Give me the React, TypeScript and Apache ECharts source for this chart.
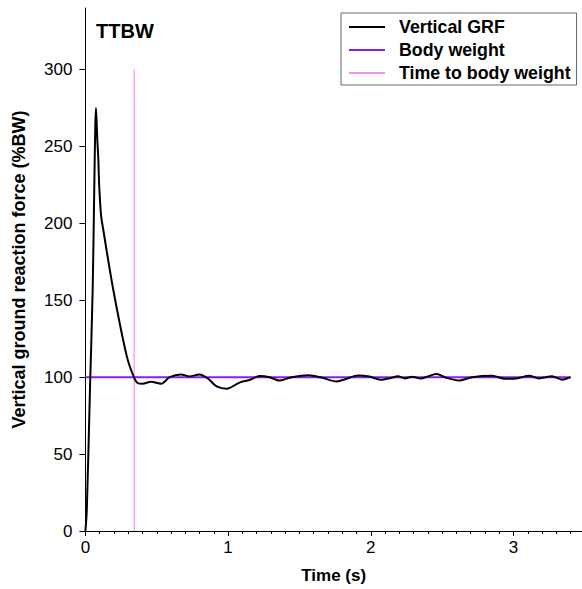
import React, { useEffect, useRef } from "react";
import * as echarts from "echarts";

const titleText = "TTBW";
const seriesNames = ["Vertical GRF", "Body weight", "Time to body weight"];

// Vertical GRF: [time (s), %BW]
const grfData: [number, number][] = [
  [0, 0], [0.01, 14], [0.032, 92], [0.051, 157], [0.062, 222], [0.069, 262], [0.074, 275],
  [0.083, 255], [0.09, 243], [0.097, 224], [0.11, 205], [0.125, 196],
  [0.195, 157], [0.289, 114], [0.342, 99.5], [0.37, 96],
  [0.4, 95.8], [0.46, 97], [0.53, 95.7], [0.59, 100], [0.67, 101.8], [0.73, 100.5],
  [0.8, 101.8], [0.86, 99], [0.92, 94], [0.99, 92.5], [1.08, 96.5], [1.15, 98.2],
  [1.22, 100.7], [1.29, 100], [1.36, 97.8], [1.43, 99.6], [1.56, 101.2], [1.66, 99.6],
  [1.76, 97.2], [1.83, 99], [1.91, 101.1], [1.99, 100.4], [2.07, 98.4], [2.14, 99.5],
  [2.19, 100.6], [2.24, 99.2], [2.29, 100.3], [2.35, 99.1], [2.4, 100.5], [2.46, 102],
  [2.53, 99.6], [2.62, 97.9], [2.71, 100], [2.85, 100.9], [2.94, 99], [3.02, 99.2],
  [3.11, 100.9], [3.18, 99.2], [3.27, 100.6], [3.34, 98.4], [3.4, 100],
];

const bodyWeightData: [number, number][] = [[0, 100], [3.4, 100]];
const ttbwData: [number, number][] = [[0.342, 0], [0.342, 300]];

const xLabelValues = [0, 1, 2, 3];
const yLabelValues = [0, 50, 100, 150, 200, 250, 300];

const FONT = "'Liberation Sans', Arial, Helvetica, sans-serif";
const BLACK = "#000";
const PURPLE = "#8a1cf5";
const PINK = "#f78ef7";

export default function App() {
  const ref = useRef<HTMLDivElement>(null);
  useEffect(() => {
    if (!ref.current) return;
    const chart = echarts.init(ref.current, null, { renderer: "svg" });
    chart.setOption({
      animation: false,
      backgroundColor: "#fff",
      textStyle: { fontFamily: FONT },
      title: {
        text: titleText,
        left: 96,
        top: 21,
        padding: 0,
        textStyle: { fontFamily: FONT, fontSize: 20, fontWeight: "bold", color: BLACK },
      },
      legend: {
        orient: "vertical",
        left: 341,
        top: 13,
        padding: [5, 6, 3, 8],
        itemGap: 5,
        itemWidth: 36,
        itemHeight: 2,
        icon: "rect",
        borderColor: "#666",
        borderWidth: 1,
        borderRadius: 0,
        data: seriesNames,
        textStyle: {
          fontFamily: FONT,
          fontSize: 17.8,
          fontWeight: "bold",
          color: BLACK,
          lineHeight: 18,
          padding: [0, 0, 0, 9],
        },
      },
      grid: { left: 85.4, right: 0, top: 8, bottom: 57, containLabel: false },
      xAxis: [
        {
          type: "value",
          min: 0,
          max: 3.48,
          interval: 1,
          position: "bottom",
          name: "Time (s)",
          nameLocation: "middle",
          nameGap: 36,
          nameTextStyle: { fontFamily: FONT, fontSize: 17, fontWeight: "bold", color: BLACK },
          axisLine: { show: true, lineStyle: { color: BLACK, width: 1 } },
          axisTick: { show: true, length: 5, lineStyle: { color: BLACK }, customValues: xLabelValues },
          axisLabel: { fontFamily: FONT, fontSize: 17, color: BLACK, margin: 8, customValues: xLabelValues },
          splitLine: { show: false },
        },
        {
          type: "value",
          min: 0,
          max: 3.48,
          interval: 0.1,
          position: "bottom",
          axisLine: { show: false },
          axisTick: { show: true, length: 3, lineStyle: { color: BLACK } },
          axisLabel: { show: false },
          splitLine: { show: false },
        },
      ],
      yAxis: {
        type: "value",
        min: 0,
        max: 340,
        interval: 50,
        name: "Vertical ground reaction force (%BW)",
        nameLocation: "middle",
        nameGap: 57,
        nameTextStyle: { fontFamily: FONT, fontSize: 18, fontWeight: "bold", color: BLACK },
        axisLine: { show: true, lineStyle: { color: BLACK, width: 1 } },
        axisTick: { show: true, length: 6, lineStyle: { color: BLACK }, customValues: yLabelValues },
        axisLabel: { fontFamily: FONT, fontSize: 17, color: BLACK, margin: 13, customValues: yLabelValues },
        splitLine: { show: false },
      },
      series: [
        {
          name: seriesNames[0],
          type: "line",
          data: grfData,
          smooth: 0.3,
          symbol: "none",
          z: 5,
          lineStyle: { color: BLACK, width: 2 },
          itemStyle: { color: BLACK },
        },
        {
          name: seriesNames[1],
          type: "line",
          data: bodyWeightData,
          symbol: "none",
          z: 4,
          lineStyle: { color: PURPLE, width: 2 },
          itemStyle: { color: PURPLE },
        },
        {
          name: seriesNames[2],
          type: "line",
          data: ttbwData,
          symbol: "none",
          z: 3,
          lineStyle: { color: PINK, width: 1.2 },
          itemStyle: { color: PINK },
        },
      ],
    });
    return () => chart.dispose();
  }, []);
  return (
    <div
      ref={ref}
      style={{ width: 582, height: 589, position: "absolute", left: 0, top: 0 }}
    />
  );
}
